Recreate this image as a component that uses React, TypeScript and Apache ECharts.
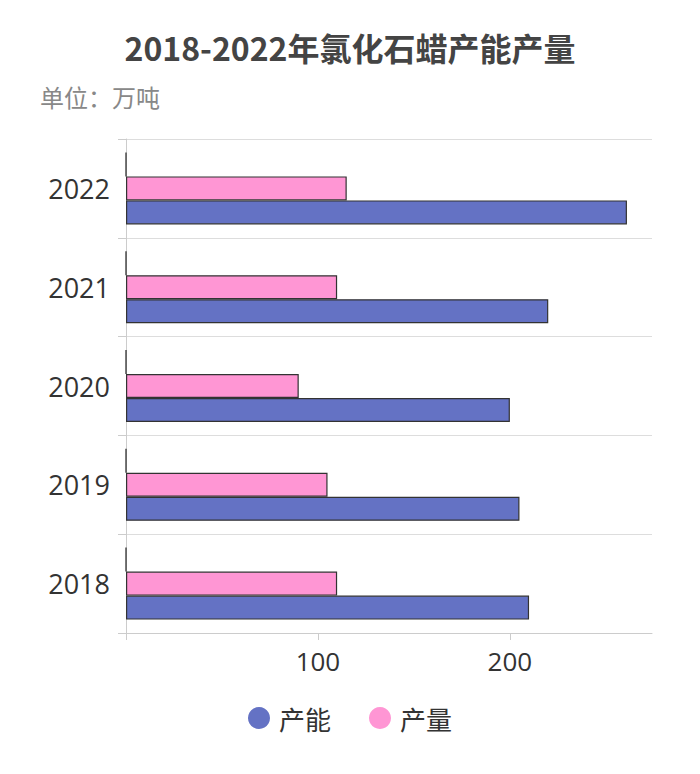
import React, { useEffect, useRef } from "react";
import * as echarts from "echarts";

const years = ["2018", "2019", "2020", "2021", "2022"];
const capacity = [210, 205, 200, 220, 261];
const output = [110, 105, 90, 110, 115];
const placeholder = [0, 0, 0, 0, 0];
const xLabelValues = [100, 200];
const xTickValues = [0, 100, 200];

const FONT = "'Noto Sans CJK SC', 'Noto Sans', sans-serif";
const NUM_FONT = "'Open Sans', 'Noto Sans', sans-serif";

export default function App() {
  const ref = useRef<HTMLDivElement>(null);
  useEffect(() => {
    const chart = echarts.init(ref.current!, undefined, { renderer: "svg" });
    chart.setOption({
      animation: false,
      textStyle: { fontFamily: FONT },
      title: [
        {
          text: "2018-2022年氯化石蜡产能产量",
          left: "center",
          top: 18,
          textStyle: { fontSize: 32, fontWeight: "bold", color: "#444", fontFamily: FONT },
        },
        {
          text: "单位：万吨",
          left: 27,
          top: 71,
          textStyle: { fontSize: 24, fontWeight: "normal", color: "#888", fontFamily: FONT },
        },
      ],
      legend: {
        bottom: 46,
        left: "center",
        data: ["产能", "产量"],
        icon: "circle",
        itemWidth: 22,
        itemHeight: 22,
        itemGap: 38,
        itemStyle: { borderWidth: 0 },
        textStyle: { fontSize: 26, color: "#333", fontFamily: FONT, padding: [0, 0, 0, 4] },
      },
      grid: { left: 118, right: 40, top: 131, bottom: 149, containLabel: false },
      xAxis: {
        type: "value",
        min: 0,
        max: (v: any) => v.max * 1.05,
        splitLine: { show: false },
        axisLine: { show: true, lineStyle: { color: "#ccc" } },
        axisTick: { show: true, length: 7, lineStyle: { color: "#ccc" }, customValues: xTickValues },
        axisLabel: { fontSize: 26, color: "#333", margin: 15, customValues: xLabelValues, fontFamily: NUM_FONT },
      },
      yAxis: {
        type: "category",
        data: years,
        axisLine: { show: true, lineStyle: { color: "#ccc" } },
        axisTick: { show: true, length: 8, lineStyle: { color: "#ccc" } },
        axisLabel: { fontSize: 27, color: "#333", margin: 16, fontFamily: NUM_FONT },
        splitLine: { show: true, lineStyle: { color: "#ddd" } },
      },
      series: [
        {
          name: "",
          type: "bar",
          data: placeholder,
          barWidth: 24,
          barGap: "0%",
          itemStyle: { color: "#333", borderColor: "#222", borderWidth: 1.2 },
        },
        {
          name: "产量",
          type: "bar",
          data: output,
          barWidth: 24,
          barGap: "0%",
          itemStyle: { color: "#ff96d4", borderColor: "#333", borderWidth: 1.2 },
        },
        {
          name: "产能",
          type: "bar",
          data: capacity,
          barWidth: 24,
          barGap: "0%",
          itemStyle: { color: "#6472c4", borderColor: "#333", borderWidth: 1.2 },
        },
      ],
    });
    return () => chart.dispose();
  }, []);
  return <div ref={ref} style={{ width: 684, height: 774 }} />;
}
